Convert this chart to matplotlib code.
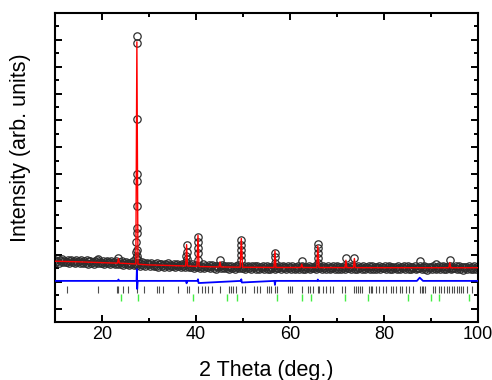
import numpy as np
import matplotlib
matplotlib.use("Agg")
import matplotlib.pyplot as plt
from matplotlib.ticker import MultipleLocator

plt.rcParams['font.family'] = ['Liberation Sans', 'DejaVu Sans']

# ---------------- data ----------------
# observed background points on a 0.25 deg grid (10 .. 100 deg)
obs_bg_start, obs_bg_step = 10.0, 0.25
obs_bg = [
    1820, 1725, 1780, 1700, 1795, 1755, 1835, 1715, 1770, 1740,
    1732, 1797, 1692, 1762, 1817, 1717, 1777, 1682, 1792, 1747,
    1777, 1687, 1802, 1727, 1697, 1762, 1712, 1792, 1677, 1752,
    1785, 1690, 1745, 1665, 1760, 1720, 1800, 1680, 1735, 1705,
    1698, 1763, 1658, 1728, 1783, 1683, 1743, 1648, 1758, 1713,
    1737, 1647, 1762, 1687, 1657, 1722, 1672, 1752, 1637, 1712,
    1737, 1642, 1697, 1617, 1712, 1672, 1752, 1632, 1687, 1657,
    1638, 1703, 1598, 1668, 1723, 1623, 1683, 1588, 1698, 1653,
    1665, 1575, 1690, 1615, 1585, 1650, 1600, 1680, 1565, 1640,
    1670, 1575, 1630, 1550, 1645, 1605, 1685, 1565, 1620, 1590,
    1582, 1647, 1542, 1612, 1667, 1567, 1627, 1532, 1642, 1597,
    1625, 1535, 1650, 1575, 1545, 1610, 1560, 1640, 1525, 1600,
    1627, 1532, 1587, 1507, 1602, 1562, 1642, 1522, 1577, 1547,
    1540, 1605, 1500, 1570, 1625, 1525, 1585, 1490, 1600, 1555,
    1585, 1495, 1610, 1535, 1505, 1570, 1520, 1600, 1485, 1560,
    1598, 1503, 1558, 1478, 1573, 1533, 1613, 1493, 1548, 1518,
    1517, 1582, 1477, 1547, 1602, 1502, 1562, 1467, 1577, 1532,
    1569, 1479, 1594, 1519, 1489, 1554, 1504, 1584, 1469, 1544,
    1586, 1491, 1546, 1466, 1561, 1521, 1601, 1481, 1536, 1506,
    1510, 1575, 1470, 1540, 1595, 1495, 1555, 1460, 1570, 1525,
    1564, 1474, 1589, 1514, 1484, 1549, 1499, 1579, 1464, 1539,
    1583, 1488, 1543, 1463, 1558, 1518, 1598, 1478, 1533, 1503,
    1507, 1572, 1467, 1537, 1592, 1492, 1552, 1457, 1567, 1522,
    1562, 1472, 1587, 1512, 1482, 1547, 1497, 1577, 1462, 1537,
    1581, 1486, 1541, 1461, 1556, 1516, 1596, 1476, 1531, 1501,
    1506, 1571, 1466, 1536, 1591, 1491, 1551, 1456, 1566, 1521,
    1560, 1470, 1585, 1510, 1480, 1545, 1495, 1575, 1460, 1535,
    1580, 1485, 1540, 1460, 1555, 1515, 1595, 1475, 1530, 1500,
    1504, 1569, 1464, 1534, 1589, 1489, 1549, 1454, 1564, 1519,
    1559, 1469, 1584, 1509, 1479, 1544, 1494, 1574, 1459, 1534,
    1578, 1483, 1538, 1458, 1553, 1513, 1593, 1473, 1528, 1498,
    1503, 1568, 1463, 1533, 1588, 1488, 1548, 1453, 1563, 1518,
    1557, 1467, 1582, 1507, 1477, 1542, 1492, 1572, 1457, 1532,
    1577, 1482, 1537, 1457, 1552, 1512, 1592, 1472, 1527, 1497,
    1501, 1566, 1461, 1531, 1586, 1486, 1546, 1451, 1561, 1516,
    1556, 1466, 1581, 1506, 1476, 1541, 1491, 1571, 1456, 1531,
    1520,
]

# observed points on the Bragg peaks
obs_pk_tt = [19.10, 23.50,
             27.30, 27.32, 27.34, 27.36, 27.38, 27.40, 27.42, 27.44, 27.46,
             27.48, 27.50, 27.52, 27.54, 27.56,
             37.94, 37.96, 37.98, 38.00, 38.02,
             40.38, 40.40, 40.42, 40.44, 40.46,
             45.10,
             49.60, 49.62, 49.64, 49.66, 49.68,
             56.76, 56.78, 56.80,
             62.50,
             65.88, 65.90, 65.92, 65.94, 65.96,
             71.90, 73.70, 87.60, 91.00, 94.00]
obs_pk_int = [1860, 1886,
              1900, 2087, 2482, 2982, 4744, 7066, 10149, 9899, 5005,
              3813, 2795, 2173, 1950, 1820,
              1737, 1949, 2359, 2109, 1850,
              1800, 2236, 2668, 2482, 2050,
              1800,
              1800, 2173, 2546, 2359, 1986,
              1699, 2072, 1901,
              1760,
              1699, 2050, 2415, 2247, 1875,
              1864, 1886, 1763, 1677, 1800]

# calculated profile (vertices of the red curve)
calc_tt = [10.0, 15.0, 19.0, 23.3, 23.5, 23.7, 27.2, 27.42, 27.65, 30.0, 35.0,
           37.8, 38.0, 38.2, 40.2, 40.42, 40.65, 42.0, 44.9, 45.1, 45.3, 49.4,
           49.64, 49.9, 52.0, 56.6, 56.8, 57.0, 62.3, 62.5, 62.7, 65.7, 65.92,
           66.15, 71.7, 71.9, 72.1, 73.5, 73.7, 73.9, 80.0, 93.8, 94.0, 94.2,
           100.0]
calc_int = [1763, 1740, 1715, 1690, 1864, 1690, 1660, 9925, 1650, 1625, 1600,
            1585, 2380, 1585, 1570, 2732, 1565, 1560, 1548, 1737, 1548, 1540,
            2609, 1538, 1535, 1530, 2147, 1530, 1528, 1651, 1528, 1527, 2330,
            1527, 1524, 1800, 1524, 1523, 1864, 1523, 1522, 1520, 1714, 1520,
            1520]

# difference curve (obs - calc), drawn with an offset
diff_offset = 1030
diff_tt = [10.0, 23.35, 23.5, 23.65, 27.35, 27.42, 27.48, 27.6, 37.9, 38.0,
           38.1, 40.3, 40.42, 40.55, 49.55, 49.64, 49.75, 56.7, 56.8, 56.9,
           65.8, 65.92, 66.05, 87.0, 87.6, 88.3, 100.0]
diff_int = [0, 0, 50, 0, 0, 440, -300, 0, 0, -90, 0, 0, 60, -80, 0, 60, -60,
            0, -150, 0, 0, 50, 0, 0, 120, 0, 0]

# reflection markers
ticks_phase1 = [12.6, 19.1, 23.1, 23.5, 24.5, 25.5, 27.5, 28.9, 31.6, 32.2, 33.0,
                36.2, 38.0, 38.6, 40.5, 41.2, 41.9, 42.6, 43.5, 45.1, 47.0, 47.4,
                47.9, 48.5, 49.7, 50.4, 52.3, 52.9, 53.6, 55.2, 55.5, 55.9, 56.8,
                57.3, 59.5, 59.9, 60.4, 62.5, 63.9, 64.3, 64.8, 65.9, 66.2, 67.0,
                67.6, 68.5, 69.2, 71.0, 71.7, 73.7, 74.0, 74.4, 74.8, 75.3, 76.9,
                77.2, 77.5, 78.3, 79.0, 79.7, 80.4, 81.5, 82.0, 82.6, 83.3, 83.8,
                84.7, 85.4, 86.2, 87.7, 88.0, 88.4, 88.7, 90.5, 90.9, 91.6, 92.1,
                92.8, 93.3, 93.9, 94.4, 94.9, 95.6, 96.0, 96.3, 96.9, 97.6, 98.8]
ticks_phase2 = [24.0, 27.6, 39.4, 46.7, 48.8, 57.2, 62.6, 64.5, 71.6, 76.7, 85.0,
                89.9, 91.6, 98.1]
ticks1_range = (596, 831)
ticks2_range = (272, 559)

# ---------------- figure ----------------
fig = plt.figure(figsize=(4.92, 3.80), dpi=100)
ax = fig.add_axes([55/492, 1-322/380, (478-55)/492, (322-13)/380])

obs_bg_tt = obs_bg_start + obs_bg_step*np.arange(len(obs_bg))
obs_tt = np.concatenate([obs_bg_tt, obs_pk_tt])
obs_int = np.concatenate([obs_bg, obs_pk_int])
ax.plot(obs_tt, obs_int, linestyle='none', marker='o', ms=5.3,
        mfc='none', mec='#2e2e2e', mew=0.9, zorder=2)
ax.plot(calc_tt, calc_int, color='#ff0000', lw=1.0, zorder=3)
ax.plot(diff_tt, np.array(diff_int) + diff_offset, color='#0000ff', lw=1.3, zorder=3)
ax.vlines(ticks_phase1, *ticks1_range, colors='#4d4d4d', lw=0.8, zorder=2)
ax.vlines(ticks_phase2, *ticks2_range, colors='#44ee44', lw=1.0, zorder=2)

ax.set_xlim(10, 100)
ax.set_ylim(-500, 11000)
ax.xaxis.set_major_locator(MultipleLocator(20))
ax.xaxis.set_minor_locator(MultipleLocator(10))
ax.yaxis.set_major_locator(MultipleLocator(1000))
ax.yaxis.set_minor_locator(MultipleLocator(500))
ax.tick_params(which='both', direction='in', top=True, right=True,
               width=1.4, labelsize=13, pad=3, labelleft=False)
ax.tick_params(which='major', length=5)
ax.tick_params(which='minor', length=3)
for s in ax.spines.values():
    s.set_linewidth(1.5)

ax.set_xlabel('2 Theta (deg.)', fontsize=15.5, labelpad=12)
ax.set_ylabel('Intensity (arb. units)', fontsize=15.5)
ax.yaxis.set_label_coords(-0.057, 0.565)

fig.savefig('out.png', dpi=100)
